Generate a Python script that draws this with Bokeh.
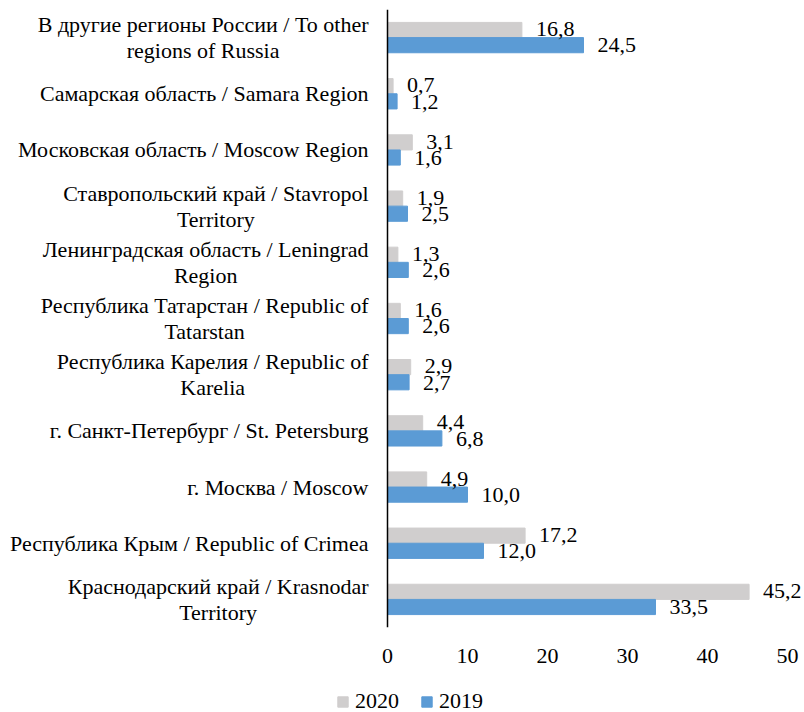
from bokeh.plotting import figure
from bokeh.layouts import column
from bokeh.models import (ColumnDataSource, FactorRange, Range1d, FixedTicker,
                          Span, Legend, LegendItem)
from bokeh.transform import dodge
from bokeh.core.properties import value
from bokeh.embed import file_html
from bokeh.resources import INLINE

categories = [
    "В другие регионы России / To other\nregions of Russia",
    "Самарская область / Samara Region",
    "Московская область / Moscow Region",
    "Ставропольский край / Stavropol\nTerritory",
    "Ленинградская область / Leningrad\nRegion",
    "Республика Татарстан / Republic of\nTatarstan",
    "Республика Карелия / Republic of\nKarelia",
    "г. Санкт-Петербург / St. Petersburg",
    "г. Москва / Moscow",
    "Республика Крым / Republic of Crimea",
    "Краснодарский край / Krasnodar\nTerritory",
]
values_2020 = [16.8, 0.7, 3.1, 1.9, 1.3, 1.6, 2.9, 4.4, 4.9, 17.2, 45.2]
values_2019 = [24.5, 1.2, 1.6, 2.5, 2.6, 2.6, 2.7, 6.8, 10.0, 12.0, 33.5]
series_names = ["2020", "2019"]
x_ticks = [0, 10, 20, 30, 40, 50]

FONT = "Liberation Serif"
FS = "22px"
GRAY = "#D0CECE"
BLUE = "#5B9BD5"

def fmt(v):
    return f"{v:.1f}".replace(".", ",")

src = ColumnDataSource(dict(
    cat=categories,
    zero=[0] * len(categories),
    v2020=values_2020,
    v2019=values_2019,
    l2020=[fmt(v) for v in values_2020],
    l2019=[fmt(v) for v in values_2019],
))

p = figure(
    frame_width=795, frame_height=618,
    y_range=FactorRange(*reversed(categories), range_padding=0),
    x_range=Range1d(-47.375, 52.0),
    y_axis_location=None,
    output_backend="svg", toolbar_location=None,
    min_border_left=8, min_border_right=0, min_border_top=9, min_border_bottom=50,
)
p.outline_line_color = None
p.xgrid.grid_line_color = None
p.ygrid.grid_line_color = None

xa = p.xaxis[0]
xa.ticker = FixedTicker(ticks=x_ticks)
xa.axis_line_color = None
xa.major_tick_line_color = None
xa.minor_tick_line_color = None
xa.major_tick_out = 0
xa.major_tick_in = 0
xa.major_label_text_font = FONT
xa.major_label_text_font_size = FS
xa.major_label_text_color = "black"
xa.major_label_standoff = 21

r20 = p.hbar(y=dodge("cat", 0.135, range=p.y_range), left=0, right="v2020",
             height=0.27, color=GRAY, source=src)
r19 = p.hbar(y=dodge("cat", -0.135, range=p.y_range), left=0, right="v2019",
             height=0.27, color=BLUE, source=src)

p.text(x="v2020", y=dodge("cat", 0.15, range=p.y_range), text="l2020", source=src,
       x_offset=14, text_align="left", text_baseline="middle",
       text_font=value(FONT), text_font_size=FS, text_color="black")
p.text(x="v2019", y=dodge("cat", -0.14, range=p.y_range), text="l2019", source=src,
       x_offset=14, text_align="left", text_baseline="middle",
       text_font=value(FONT), text_font_size=FS, text_color="black")

p.text(x="zero", y="cat", text="cat", source=src,
       x_offset=-19, anchor=value("center_right"), text_align="center",
       text_baseline="middle", text_line_height=1.05,
       text_font=value(FONT), text_font_size=FS, text_color="black")

p.add_layout(Span(location=0, dimension="height", line_color="black", line_width=1.5))

# legend strip below the chart
p2 = figure(width=803, height=35, output_backend="svg", toolbar_location=None,
            x_axis_location=None, y_axis_location=None,
            min_border=0, x_range=Range1d(0, 1), y_range=Range1d(0, 1))
p2.outline_line_color = None
p2.xgrid.grid_line_color = None
p2.ygrid.grid_line_color = None
d20 = p2.hbar(y=[-9], left=[-9], right=[-8], height=1, color=GRAY)
d19 = p2.hbar(y=[-9], left=[-9], right=[-8], height=1, color=BLUE)
legend = Legend(
    items=[LegendItem(label=series_names[0], renderers=[d20]),
           LegendItem(label=series_names[1], renderers=[d19])],
    location=(328, -2), orientation="horizontal",
    glyph_width=13, glyph_height=13, label_standoff=6, spacing=21,
    padding=0, margin=0, border_line_color=None, background_fill_alpha=0,
    label_text_font=FONT, label_text_font_size=FS, label_text_color="black",
)
p2.add_layout(legend)

open("out.html", "w").write(file_html(column(p, p2, spacing=0), INLINE))
